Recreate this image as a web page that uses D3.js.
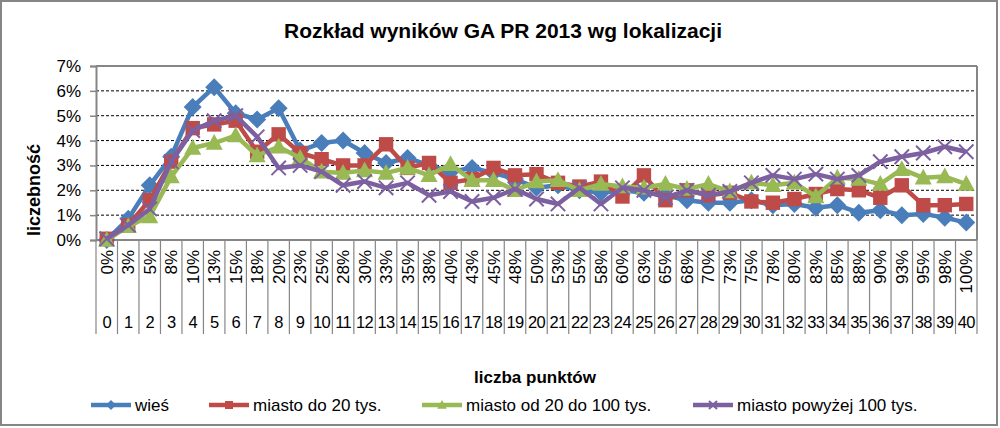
<!DOCTYPE html>
<html><head><meta charset="utf-8">
<script src="https://cdn.jsdelivr.net/npm/d3@7"></script>
<style>html,body{margin:0;padding:0;background:#fff;}svg{display:block;}</style>
</head><body>
<svg id="c" width="1000" height="428"></svg>
<script>
const pctLabels = ["0%","3%","5%","8%","10%","13%","15%","18%","20%","23%","25%","28%","30%","33%","35%","38%","40%","43%","45%","48%","50%","53%","55%","58%","60%","63%","65%","68%","70%","73%","75%","78%","80%","83%","85%","88%","90%","93%","95%","98%","100%"];
const pointLabels = ["0","1","2","3","4","5","6","7","8","9","10","11","12","13","14","15","16","17","18","19","20","21","22","23","24","25","26","27","28","29","30","31","32","33","34","35","36","37","38","39","40"];
const yTicks = [0,1,2,3,4,5,6,7];
const seriesNames = ["wieś","miasto do 20 tys.","miasto od 20 do 100 tys.","miasto powyżej 100 tys."];
const wies = [0.0,0.85,2.2,3.35,5.35,6.15,5.1,4.85,5.3,3.6,3.9,4.0,3.5,3.1,3.3,3.0,2.75,2.9,2.7,2.45,2.1,2.2,2.0,1.9,2.0,1.9,1.8,1.6,1.5,1.5,1.6,1.4,1.45,1.3,1.4,1.1,1.2,1.0,1.05,0.9,0.7];
const miasto20 = [0.05,0.6,1.6,3.15,4.5,4.65,4.8,3.55,4.25,3.5,3.25,3.0,3.0,3.85,2.9,3.1,2.3,2.45,2.9,2.6,2.65,2.3,2.15,2.35,1.75,2.6,1.6,2.0,1.8,1.9,1.55,1.5,1.65,1.85,2.05,2.0,1.7,2.2,1.4,1.4,1.45];
const miasto100 = [0.0,0.55,0.95,2.55,3.7,3.9,4.2,3.4,3.75,3.3,2.75,2.7,2.8,2.7,2.9,2.6,3.05,2.4,2.4,2.0,2.35,2.4,2.0,2.25,2.15,2.1,2.25,2.05,2.25,1.95,2.3,2.2,2.3,1.75,2.5,2.45,2.25,2.85,2.5,2.55,2.25];
const miastoPow = [0.05,0.6,1.25,3.15,4.4,4.8,5.0,4.15,2.9,3.0,2.75,2.2,2.35,2.1,2.3,1.8,1.95,1.55,1.7,2.05,1.65,1.45,2.1,1.45,2.1,2.0,1.7,2.0,1.8,1.95,2.3,2.6,2.45,2.65,2.45,2.6,3.15,3.35,3.5,3.75,3.55];
const colors = ["#4A7EBB","#BE4B48","#98B954","#7D60A0"];
const markers = ["diamond","square","triangle","x"];

const svg = d3.select("#c");
const FONT = "Liberation Sans, Arial, sans-serif";
const L = 96, R = 977, T = 66, B = 240;

// outer border
svg.append("rect").attr("x",1).attr("y",1).attr("width",996).attr("height",424)
  .attr("fill","#fff").attr("stroke","#868686").attr("stroke-width",2);

const x = d3.scaleBand().domain(pointLabels).range([L,R]).padding(0);
const y = d3.scaleLinear().domain([0,7]).range([B,T]);
const bw = x.bandwidth();
const cx = i => x(pointLabels[i]) + bw/2;

// gridlines
svg.append("g").selectAll("line").data(yTicks.filter(d=>d>0 && d<7)).join("line")
  .attr("x1",L).attr("x2",R).attr("y1",d=>y(d)).attr("y2",d=>y(d))
  .attr("stroke","#000").attr("stroke-width",1).attr("stroke-dasharray","3,2");

// plot border top/right
svg.append("line").attr("x1",L).attr("x2",R).attr("y1",T).attr("y2",T).attr("stroke","#868686").attr("stroke-width",2);
svg.append("line").attr("x1",R).attr("x2",R).attr("y1",T).attr("y2",B).attr("stroke","#868686").attr("stroke-width",2);

// y axis
const yAxis = d3.axisLeft(y).tickValues(yTicks).tickFormat(d=>d+"%").tickSize(6).tickPadding(9);
const ga = svg.append("g").attr("transform",`translate(${L},0)`).call(yAxis);
ga.select(".domain").attr("stroke","#868686").attr("stroke-width",2);
ga.selectAll(".tick line").attr("stroke","#868686").attr("stroke-width",1.5);
ga.selectAll("text").attr("font-family",FONT).attr("font-size",17).attr("fill","#000");

// x axis: category separators spanning both label rows
svg.append("g").selectAll("line").data(d3.range(pointLabels.length+1)).join("line")
  .attr("x1",i=> i<pointLabels.length ? x(pointLabels[i]) : R)
  .attr("x2",i=> i<pointLabels.length ? x(pointLabels[i]) : R)
  .attr("y1",B).attr("y2",334).attr("stroke","#868686").attr("stroke-width",1.2);
svg.append("line").attr("x1",L).attr("x2",R).attr("y1",B).attr("y2",B).attr("stroke","#868686").attr("stroke-width",2);

// percent labels rotated
svg.append("g").selectAll("text").data(pctLabels).join("text")
  .attr("transform",(d,i)=>`translate(${cx(i)+6},250) rotate(-90)`)
  .attr("text-anchor","end").attr("font-family",FONT).attr("font-size",17).text(d=>d);
// point labels
svg.append("g").selectAll("text").data(pointLabels).join("text")
  .attr("x",(d,i)=>cx(i)).attr("y",328).attr("text-anchor","middle")
  .attr("font-family",FONT).attr("font-size",16.5).attr("letter-spacing",-0.6).text(d=>d);

// series
const allSeries = [wies, miasto20, miasto100, miastoPow];
const line = d3.line().x((d,i)=>cx(i)).y(d=>y(d));
function marker(g, type, color, s){
  if(type==="diamond") g.append("path").attr("d",`M0,${-s}L${s},0L0,${s}L${-s},0Z`).attr("fill",color);
  else if(type==="square") g.append("rect").attr("x",-s*0.8).attr("y",-s*0.8).attr("width",s*1.6).attr("height",s*1.6).attr("fill",color);
  else if(type==="triangle") g.append("path").attr("d",`M0,${-s}L${s*0.95},${s*0.75}L${-s*0.95},${s*0.75}Z`).attr("fill",color);
  else g.append("path").attr("d",`M${-s*0.8},${-s*0.8}L${s*0.8},${s*0.8}M${-s*0.8},${s*0.8}L${s*0.8},${-s*0.8}`).attr("stroke",color).attr("stroke-width",2).attr("fill","none");
}
allSeries.forEach((vals,k)=>{
  const g = svg.append("g");
  g.append("path").attr("d",line(vals)).attr("fill","none").attr("stroke",colors[k])
    .attr("stroke-width",4.5).attr("stroke-linejoin","round");
  vals.forEach((v,i)=>{
    const m = g.append("g").attr("transform",`translate(${cx(i)},${y(v)})`);
    marker(m, markers[k], colors[k], k===3?9:9);
  });
});

// titles
svg.append("text").attr("x",503).attr("y",38).attr("text-anchor","middle")
  .attr("font-family",FONT).attr("font-weight","bold").attr("font-size",21).text("Rozkład wyników GA PR 2013 wg lokalizacji");
svg.append("text").attr("transform","translate(40,190) rotate(-90)").attr("text-anchor","middle")
  .attr("font-family",FONT).attr("font-weight","bold").attr("font-size",18).text("liczebność");
svg.append("text").attr("x",535).attr("y",383).attr("text-anchor","middle")
  .attr("font-family",FONT).attr("font-weight","bold").attr("font-size",17).text("liczba punktów");

// legend
const legX = [91,209,422,693];
seriesNames.forEach((n,k)=>{
  const g = svg.append("g").attr("transform",`translate(${legX[k]},405)`);
  g.append("line").attr("x1",0).attr("x2",40).attr("y1",0).attr("y2",0).attr("stroke",colors[k]).attr("stroke-width",4.5);
  const m = g.append("g").attr("transform","translate(20,0)");
  marker(m, markers[k], colors[k], 5);
  g.append("text").attr("x",44).attr("y",6).attr("font-family",FONT).attr("font-size",17).text(n);
});
</script>
</body></html>
